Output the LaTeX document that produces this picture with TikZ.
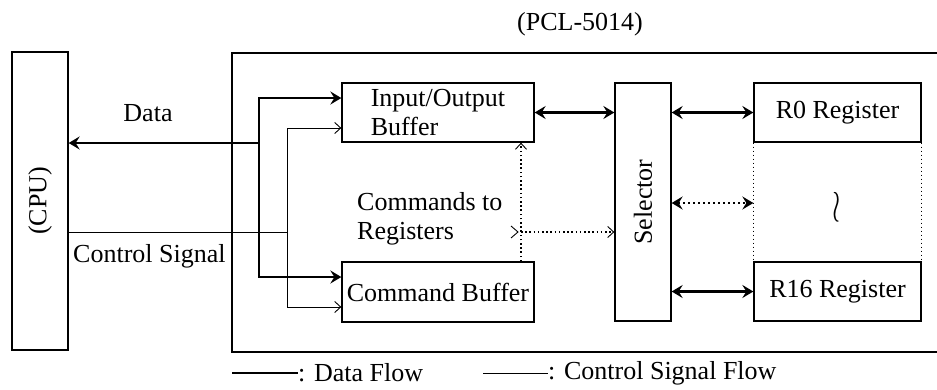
\documentclass[tikz,border=0pt]{standalone}
\usepackage{fontspec}
\setmainfont{Liberation Serif}
\usetikzlibrary{arrows.meta}
\tikzset{
  dtip/.tip={Stealth[length=11pt,width=13pt,inset=4pt]},
  ctip/.tip={Straight Barb[length=6pt,width=11pt]},
  lbl/.style={font=\fontsize{26}{29}\selectfont, inner sep=0pt},
  blk/.style={draw, line width=1.3pt, inner sep=0pt, font=\fontsize{26}{29}\selectfont},
  dataline/.style={line width=2.2pt},
  ctrlline/.style={line width=0.9pt},
  dotline/.style={line width=1.1pt, dash pattern=on 1.6pt off 2.6pt},
  regdot/.style={line width=1pt, dash pattern=on 1pt off 3pt},
}
\begin{document}
\begin{tikzpicture}[x=1pt,y=-1pt]
\useasboundingbox[fill=white] (0,0) rectangle (937,389);

% outer (PCL-5014) box, open to the right
\draw[line width=1.6pt] (937,53) -- (232,53) -- (232,352) -- (937,352);
\node[lbl] (title) at (580,24) {(PCL-5014)};

% blocks
\node[blk, minimum width=56pt, minimum height=298pt] (cpu) at (40,201) {\rotatebox{90}{(CPU)}};
\node[blk, minimum width=192pt, minimum height=59pt, align=left] (io) at (438,112.5) {Input/Output\\Buffer};
\node[blk, minimum width=192pt, minimum height=60pt] (cmd) at (438,292) {Command Buffer};
\node[blk, minimum width=56pt, minimum height=238pt] (sel) at (643,202) {\rotatebox{90}{Selector}};
\node[blk, minimum width=167pt, minimum height=59pt] (r0) at (837.5,112.5) {R0 Register};
\node[blk, minimum width=167pt, minimum height=59pt] (r16) at (837.5,291.5) {R16 Register};
\node[lbl] (dots) at (837,207) {\scalebox{1.2}[1.8]{$\wr$}};

% register range (dotted sides)
\draw[regdot] (r0.south west) -- (r16.north west);
\draw[regdot] (r0.south east) -- (r16.north east);

% labels
\node[lbl] (ldata) at (148,113) {Data};
\node[lbl, anchor=west] (lctrl) at (73,256) {Control Signal};
\node[lbl, anchor=west, align=left] (lcmd) at (357,219) {Commands to\\Registers};

% data flow (thick)
\coordinate (dj) at (259,143);
\coordinate (dtop) at (259,98);
\coordinate (dbot) at (259,277);
\draw[dataline, -{dtip}] (dj) -- (cpu.east |- dj);
\draw[dataline, line cap=rect] (dtop) -- (dbot);
\draw[dataline, -{dtip}] (dtop) -- (io.west |- dtop);
\draw[dataline, -{dtip}] (dbot) -- (cmd.west |- dbot);

% control signal (thin)
\coordinate (cj) at (287,232);
\coordinate (ctop) at (287,128);
\coordinate (cbot) at (287,307);
\draw[ctrlline] (cpu.east |- cj) -- (cj);
\draw[ctrlline] (ctop) -- (cbot);
\draw[ctrlline, -{ctip}] (ctop) -- (io.west |- ctop);
\draw[ctrlline, -{ctip}] (cbot) -- (cmd.west |- cbot);

% commands to registers (dotted)
\coordinate (vx) at (521,232);
\draw[dotline, -{ctip[line width=0.9pt]}] (cmd.north -| vx) -- (io.south -| vx);
\draw[dotline, -{ctip[line width=0.9pt]}] (vx) -- (sel.west |- vx);
\draw[ctrlline] (511,226) -- (518,232) -- (511,238);

% selector connections
\draw[dataline, {dtip}-{dtip}] (io.east) -- (sel.west |- io.east);
\draw[dataline, {dtip}-{dtip}] (sel.east |- r0.west) -- (r0.west);
\draw[dataline, dash pattern=on 2pt off 3pt, {dtip}-{dtip}] (sel.east |- 0,203) -- (r0.west |- 0,203);
\draw[dataline, {dtip}-{dtip}] (sel.east |- r16.west) -- (r16.west);

% legend
\node[lbl, anchor=west] (legd) at (298,373) {: Data Flow};
\node[lbl, anchor=west] (legc) at (548,373) {: Control Signal Flow};
\draw[dataline] (legd.west) ++(-66,0) -- (legd.west);
\draw[ctrlline] (legc.west) ++(-65,0) -- (legc.west);
\end{tikzpicture}
\end{document}
